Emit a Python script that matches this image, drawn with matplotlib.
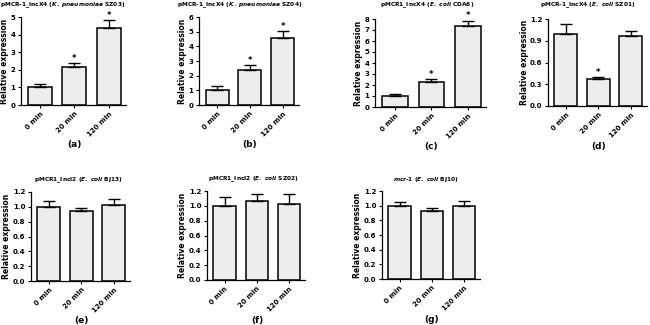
import matplotlib
matplotlib.use("Agg")
import matplotlib.pyplot as plt
import numpy as np

plt.rcParams['font.family'] = ['DejaVu Sans']
plt.rcParams['font.weight'] = 'bold'
plt.rcParams['mathtext.fontset'] = 'custom'
plt.rcParams['mathtext.it'] = 'DejaVu Sans:italic:bold'
plt.rcParams['mathtext.rm'] = 'DejaVu Sans:bold'

categories = ["0 min", "20 min", "120 min"]

titles = [
    r"pMCR-1_IncX4 ($\mathit{K.\ pneumoniae}$ SZ03)",
    r"pMCR-1_IncX4 ($\mathit{K.\ pneumoniae}$ SZ04)",
    r"pMCR1_IncX4 ($\mathit{E.\ coli}$ CDA6)",
    r"pMCR-1_IncX4 ($\mathit{E.\ coli}$ SZ01)",
    r"pMCR1_IncI2 ($\mathit{E.\ coli}$ BJ13)",
    r"pMCR1_IncI2 ($\mathit{E.\ coli}$ SZ02)",
    r"$\mathit{mcr}$-$\mathit{1}$ ($\mathit{E.\ coli}$ BJ10)",
]
panel_labels = ["(a)", "(b)", "(c)", "(d)", "(e)", "(f)", "(g)"]

means_a = [1.00, 2.14, 4.35]
err_a = [0.19, 0.23, 0.47]
means_b = [1.00, 2.36, 4.55]
err_b = [0.27, 0.34, 0.47]
means_c = [1.03, 2.24, 7.40]
err_c = [0.12, 0.30, 0.45]
means_d = [1.00, 0.37, 0.96]
err_d = [0.13, 0.03, 0.07]
means_e = [1.00, 0.94, 1.02]
err_e = [0.08, 0.04, 0.09]
means_f = [1.00, 1.06, 1.02]
err_f = [0.12, 0.10, 0.14]
means_g = [1.00, 0.93, 1.00]
err_g = [0.05, 0.045, 0.06]

stars_a = [False, True, True]
stars_b = [False, True, True]
stars_c = [False, True, True]
stars_d = [False, True, False]
stars_none = [False, False, False]

ymax_list = [5, 6, 8, 1.2, 1.2, 1.2, 1.2]
ystep_list = [1, 1, 1, 0.3, 0.2, 0.2, 0.2]
yfmt_list = ["%d", "%d", "%d", "%.1f", "%.1f", "%.1f", "%.1f"]

means_all = [means_a, means_b, means_c, means_d, means_e, means_f, means_g]
err_all = [err_a, err_b, err_c, err_d, err_e, err_f, err_g]
stars_all = [stars_a, stars_b, stars_c, stars_d, stars_none, stars_none, stars_none]

# axes rectangles in pixels: (x_left, x_right, y_top, y_bottom)
rects = [
    (21, 126, 17, 105),
    (199, 299, 17, 105),
    (375, 486, 19, 107),
    (548, 647, 19, 106),
    (31, 130, 192, 281),
    (207, 305, 191, 280),
    (382, 480, 191, 279),
]
# title centers (x, y) in pixels
title_pos = [(63, 5), (240, 5), (427, 5), (588, 5), (78, 180), (253, 179), (426, 179)]

W, H = 650, 325
fig = plt.figure(figsize=(6.5, 3.25), dpi=100)

for i in range(7):
    x0, x1, yt, yb = rects[i]
    ax = fig.add_axes([x0 / W, 1 - yb / H, (x1 - x0) / W, (yb - yt) / H])
    x = np.arange(len(categories))
    m = np.array(means_all[i])
    e = np.array(err_all[i])
    ax.bar(x, m, width=0.7, color="#ededed", edgecolor="black", linewidth=1.1, zorder=2)
    ax.errorbar(x, m, yerr=[np.zeros_like(e), e], fmt="none", ecolor="black",
                elinewidth=1.0, capsize=4, capthick=1.0, zorder=3)
    ymax = ymax_list[i]
    for j in range(3):
        if stars_all[i][j]:
            ax.text(x[j], m[j] + e[j] + ymax * 0.005, "*", ha="center", va="bottom",
                    fontsize=6, fontweight="bold", clip_on=False)
    ax.set_xlim(-0.55, 2.5)
    ax.set_ylim(0, ymax)
    ticks = np.arange(0, ymax + 1e-9, ystep_list[i])
    ax.set_yticks(ticks)
    ax.set_yticklabels([yfmt_list[i] % t for t in ticks], fontsize=5, fontweight="bold")
    ax.set_xticks(x)
    ax.set_xticklabels(categories, rotation=45, ha="right", rotation_mode="anchor",
                       fontsize=5, fontweight="bold")
    for s in ["top", "right"]:
        ax.spines[s].set_visible(False)
    for s in ["left", "bottom"]:
        ax.spines[s].set_linewidth(0.9)
    ax.tick_params(axis="both", direction="out", length=2.5, width=0.8, pad=1.5)
    ax.set_ylabel("Relative expression", fontsize=5.5, fontweight="bold", labelpad=1)
    tx, ty = title_pos[i]
    fig.text(tx / W, 1 - ty / H, titles[i], ha="center", va="center",
             fontsize=4.2, fontweight="bold")
    cx = (x0 + x1) / 2 + 1
    fig.text(cx / W, 1 - (yb + 40) / H, panel_labels[i], ha="center", va="center",
             fontsize=6.5, fontweight="bold")

fig.savefig("out.png", dpi=100)
